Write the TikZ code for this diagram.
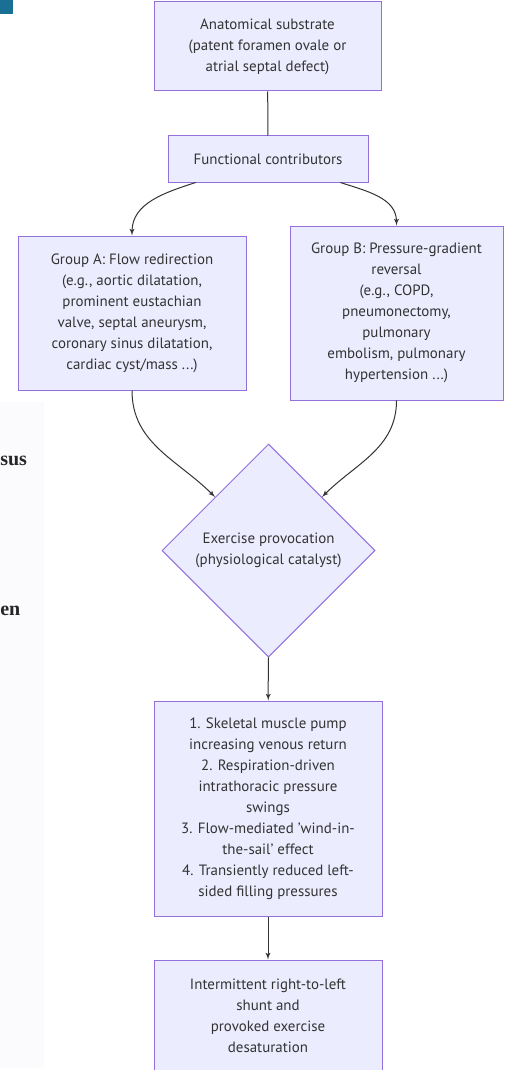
\documentclass[tikz,border=0pt]{standalone}
\usepackage{fontspec}
\setmainfont{PT Sans}
\newfontfamily\pagefont{Liberation Serif}
\usepackage{tikz}
\usetikzlibrary{arrows}
\usetikzlibrary{shapes.geometric}

\definecolor{boxfill}{HTML}{ECECFF}
\definecolor{boxline}{HTML}{9370DB}
\definecolor{edgeline}{HTML}{333333}
\definecolor{tabblue}{HTML}{1A6F94}
\definecolor{pagegray}{HTML}{FBFBFD}

\begin{document}
\begin{tikzpicture}[
  x=0.75pt,y=0.75pt,
  -,>=latex',
  box/.style={rectangle,draw=boxline,fill=boxfill,line width=0.75pt,align=center,inner sep=0pt,text=edgeline},
  test/.style={diamond,aspect=1,draw=boxline,fill=boxfill,line width=0.75pt,align=center,inner sep=0pt,text=edgeline},
  flow/.style={->,draw=edgeline,line width=0.75pt},
  pagetext/.style={anchor=base west,inner sep=0pt,text=black!85,font=\pagefont\bfseries\fontsize{15}{18}\selectfont}]
      \tikzstyle{every node}=[font=\fontsize{11.2}{15.75}\selectfont]

      \useasboundingbox (0,0) rectangle (508,-1070);

      % bits of the page behind the chart
      \fill[pagegray] (0,-402) rectangle (44,-1068);
      \fill[tabblue] (0,0) rectangle (13,-14);
      \node[pagetext] (sus) at (0,-465) {sus};
      \node[pagetext] (en) at (0,-615) {en};

      \node[box,minimum width=170.25pt,minimum height=66.75pt] (anat) at (267.5,-46.5)
        {Anatomical substrate\\(patent foramen ovale or\\atrial septal defect)};
      \node[box,minimum width=150pt,minimum height=34.5pt] (func) at (268,-159)
        {Functional contributors};
      \node[box,minimum width=171pt,minimum height=115.5pt] (grpa) at (132,-313)
        {Group A: Flow redirection\\(e.g., aortic dilatation,\\prominent eustachian\\valve, septal aneurysm,\\coronary sinus dilatation,\\cardiac cyst/mass ...)};
      \node[box,minimum width=159.75pt,minimum height=130.5pt] (grpb) at (396.5,-313)
        {Group B: Pressure-gradient\\reversal\\(e.g., COPD,\\pneumonectomy,\\pulmonary\\embolism, pulmonary\\hypertension ...)};
      \node[test,minimum width=159.75pt,minimum height=159.75pt] (exer) at (268.5,-550.5)
        {Exercise provocation\\(physiological catalyst)};
      \node[box,minimum width=171pt,minimum height=161.25pt] (mech) at (268,-808.5)
        {1. Skeletal muscle pump\\increasing venous return\\2. Respiration-driven\\intrathoracic pressure\\swings\\3. Flow-mediated 'wind-in-\\the-sail' effect\\4. Transiently reduced left-\\sided filling pressures};
      \node[box,minimum width=171pt,minimum height=83.25pt] (shunt) at (268,-1015.5)
        {Intermittent right-to-left\\shunt and\\provoked exercise\\desaturation};

      \path[draw=edgeline,line width=0.75pt] (anat) -- (func);
      \path
	(func) edge[flow,out=-162,in=90] (grpa)
	(func) edge[flow,out=-18,in=90] (grpb)
	(grpa) edge[flow,out=-90,in=135] (exer)
	(grpb) edge[flow,out=-90,in=45] (exer)
	(exer) edge[flow] (mech)
	(mech) edge[flow] (shunt);

\end{tikzpicture}
\end{document}
